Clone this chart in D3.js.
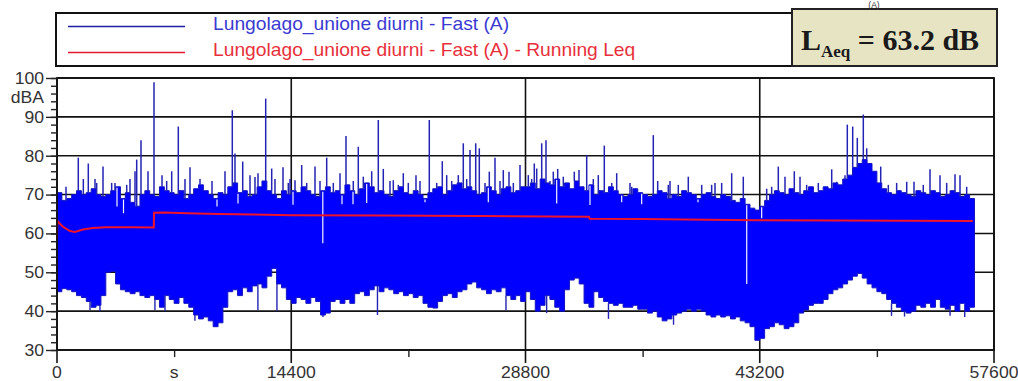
<!DOCTYPE html>
<html>
<head>
<meta charset="utf-8">
<script src="https://cdn.jsdelivr.net/npm/d3@7"></script>
<style>
  body { margin: 0; background: #fff; }
  svg { display: block; }
</style>
</head>
<body>
<div class="chart"></div>
<script>
// Fast (A) level in 300 s slices: top / bottom of the solid band (dBA)
const sliceSeconds = 300;
const bandTop = [
  // 0 - 14400 s
  70.5, 68.5, 69, 70, 71, 70, 70.5, 71.5, 70, 69.5,
  70, 71, 72, 69, 70.5, 68, 67, 70, 71, 70,
  69.5, 72, 71, 70.5, 70, 71, 69, 70, 71.5, 72.5,
  71, 70, 69, 70.5, 70, 72, 73, 70.5, 71, 69.5,
  70, 72, 73.5, 71, 70, 69, 71, 70,
  // 14400 - 28800 s
  71, 70.5, 72, 71, 70, 69.5, 71, 72, 70.5, 71,
  70, 72.5, 71, 70, 71.5, 73, 72, 70.5, 71, 70,
  69.5, 71, 72, 70.5, 70, 71, 70, 69, 70.5, 71.5,
  72, 70, 71, 72.5, 73, 71.5, 72, 71, 70, 70.5,
  72, 71, 70, 71.5, 72, 70.5, 71, 72,
  // 28800 - 43200 s
  72, 73, 71.5, 74, 73, 72.5, 74, 72, 73, 71.5,
  73.5, 72, 71, 72.5, 70, 71, 70.5, 72, 71, 70,
  69.5, 70, 71.5, 70.5, 70, 69.5, 70, 71, 70.5, 69,
  70, 69.5, 71, 70.5, 70, 69, 70, 70.5, 69.5, 69,
  70, 69.5, 68.5, 68, 69, 67.5, 66.5, 66,
  // 43200 - 56400 s
  67, 68.5, 70, 71, 70.5, 70, 71.5, 70.5, 70, 71,
  72, 70.5, 71, 72, 71.5, 73, 72.5, 74, 75, 77,
  78, 79, 78, 76, 73, 71.5, 70.5, 70, 71, 70.5,
  70, 69.5, 71, 70.5, 70, 71, 70.5, 69.5, 70, 71,
  70.5, 69.5, 70, 69
];
const bandBottom = [
  // 0 - 14400 s
  45, 45.8, 45.5, 45, 44, 43.5, 42.5, 41, 41.5, 44,
  50, 50.2, 47, 45.5, 45, 44.5, 45, 44, 43.5, 44,
  43, 41, 44, 43, 42, 43.5, 42, 41, 39, 38,
  38.5, 37.5, 36, 37, 41, 45, 45.5, 44, 46, 45,
  46.5, 47, 46, 49, 51, 47, 46, 43,
  // 14400 - 28800 s
  42, 43.5, 43, 42, 43.5, 42.5, 39, 39.5, 42.5, 43,
  42, 43, 42, 44.5, 45, 44, 45.5, 46.5, 45, 46,
  45.5, 44.5, 45, 44, 44.5, 43.5, 44, 42, 41, 40.8,
  42.5, 44, 44.5, 43.5, 45, 45.5, 47, 47.5, 46, 45.5,
  44.5, 45.5, 45, 46, 44, 43, 44, 42.5,
  // 28800 - 43200 s
  45, 43, 40, 41.5, 44, 43, 41, 40, 45.5, 48,
  48.5, 47, 42, 41, 45, 43.5, 42.5, 42, 41.5, 42,
  41, 41, 41.5, 40.5, 40.5, 39.5, 40, 38.5, 37.5, 38,
  39, 39.5, 40, 40.5, 40, 40.5, 40, 39, 38.5, 39,
  38.5, 38.8, 38, 38.5, 37.5, 37, 36, 32.5,
  // 43200 - 56400 s
  33, 35.5, 36, 37, 36.5, 35.5, 36, 37, 39.5, 40.3,
  41.5, 42, 42, 43, 44.5, 45.5, 46, 47, 48, 49,
  49.7, 48.5, 47, 46, 45, 44.5, 43, 42, 41, 40,
  39.5, 40, 41.5, 41, 42, 41, 43, 41, 40.5, 41.5,
  40, 42, 40, 41
];

// short loud events above the band: [seconds, dBA]
const peaks = [
  [553, 72], [1309, 79.5], [1619, 74], [1924, 78], [2336, 74], [2439, 73],
  [2828, 77.2], [3360, 73], [3565, 73], [4285, 72.5], [4487, 74], [4795, 76],
  [4899, 79], [5164, 84], [5594, 76], [5963, 98.9], [6455, 75], [6742, 73.5],
  [7051, 76], [7457, 87.5], [7868, 74], [8176, 77], [8791, 74], [9528, 73.5],
  [10327, 76], [10776, 91.7], [10942, 80.6], [11416, 78.5], [11864, 75],
  [12171, 74.5], [12356, 75.5], [12829, 94.7], [13198, 76.7], [13400, 74],
  [13893, 77], [14218, 73], [14323, 74],
  [14631, 73.7], [15042, 77.6], [15350, 73], [15860, 77.2], [16167, 73.5],
  [16579, 79.5], [16985, 73], [17397, 75.5], [17765, 85.1], [18214, 73.5],
  [18521, 82.3], [18829, 74.6], [19136, 73], [19345, 76], [19751, 89.2],
  [20058, 76.6], [20470, 73.5], [20673, 73.7], [20981, 72.5], [21288, 75.5],
  [21595, 73], [22068, 75], [22314, 73.5], [22886, 89.2], [23341, 73],
  [23685, 78.6], [23956, 75], [24263, 73.5], [24669, 75], [24976, 83.2],
  [25185, 74], [25388, 81.5], [25739, 83.2], [25960, 81.9], [26310, 73],
  [26575, 75.9], [26925, 79.5], [27232, 73.5], [27435, 76.3], [27786, 75.9],
  [28052, 73], [28462, 77.6],
  [28972, 75], [29181, 74], [29341, 78], [29489, 76.7], [29796, 83.2],
  [30060, 84], [30306, 73.5], [30509, 75.9], [30779, 76.6], [31124, 74.6],
  [31431, 73], [31800, 75.9], [32089, 76.3], [32562, 80.2], [32967, 74],
  [33275, 75], [33644, 82.6], [34099, 73], [34406, 75.5], [35224, 73],
  [35328, 72], [36656, 85.3], [36926, 73.5], [37577, 72.5], [37683, 73.5],
  [38192, 72.5], [38807, 74.6], [39631, 72.5], [40244, 72.5], [40449, 73],
  [40859, 73], [41475, 75.5], [42188, 74.6],
  [43626, 71.5], [43933, 72], [44340, 77.2], [44752, 74.6], [45324, 76],
  [45675, 74.6], [46085, 72.5], [46800, 73], [47623, 76.5], [47930, 73.3],
  [48441, 75], [48582, 88], [48914, 87.5], [49197, 84.6], [49566, 90.6],
  [49775, 81.9], [50636, 77.2], [51103, 72.5], [51615, 73], [52234, 73.3],
  [52683, 73.3], [53252, 72.5], [53666, 76.5], [54281, 75], [54691, 73],
  [55203, 75.2], [55510, 75], [55920, 72]
];
// quiet moments below the band: [seconds, dBA]
const troughs = [
  [2030, 40.2], [2640, 40], [6020, 40.3], [6640, 40], [8480, 37.5], [12350, 40.3],
  [13520, 40], [16350, 38.5], [19700, 39], [27600, 40.2], [30100, 39.5],
  [33900, 38], [37900, 36.5], [51300, 38.8], [52100, 38.6], [54900, 38.8], [55800, 38.5]
];
// short drops cutting down into the band from its top: [seconds, dBA]
const notches = [
  [3688, 66.9], [4088, 65.2], [9836, 66.9], [11127, 67.7], [14508, 67.4],
  [16340, 57.5], [17520, 67.5], [18196, 67.5], [19038, 67.8], [22622, 68],
  [26513, 68], [30718, 67.7], [32765, 67.3], [34713, 68], [35942, 67.5],
  [39405, 68], [42400, 47], [43319, 63.9]
];
// running Leq: [seconds, dBA]
const runningLeq = [
  [0, 58.5], [20, 63.3], [150, 62.6], [400, 61.6], [800, 60.6], [1100, 60.4],
  [1600, 61], [2200, 61.4], [3000, 61.6], [4500, 61.6], [5950, 61.5], [5965, 65.3],
  [6600, 65.4], [8000, 65.2], [10000, 65], [12000, 64.9], [14400, 64.7],
  [20000, 64.6], [26000, 64.5], [32700, 64.3], [32750, 63.8], [36000, 63.7],
  [40000, 63.5], [43200, 63.4], [48000, 63.3], [56300, 63.2]
];

const xMajor = [0, 14400, 28800, 43200, 57600];
const xMinor = [7200, 21600, 36000, 50400];
const xUnit = 's';
const yMajor = [30, 40, 50, 60, 70, 80, 90, 100];
const yUnit = 'dBA';
const seriesNames = [
  'Lungolago_unione diurni - Fast (A)',
  'Lungolago_unione diurni - Fast (A) - Running Leq'
];
const laeqValue = '63.2';

const width = 1018;
const height = 381;
const plot = {left: 57, right: 994, top: 78, bottom: 350};
const sansFont = '"Liberation Sans", Arial, sans-serif';
const stretch = 1.1;

const svg = d3.select('.chart').append('svg')
  .attr('width', width)
  .attr('height', height);

const x = d3.scaleLinear().domain([0, 57600]).range([plot.left, plot.right]);
const y = d3.scaleLinear().domain([30, 100]).range([plot.bottom, plot.top]);

function stretchedText(parent, px, py, str, opts) {
  return parent.append('text')
    .attr('transform', `translate(${px},${py}) scale(${opts.sx || stretch},1)`)
    .attr('text-anchor', opts.anchor || 'start')
    .attr('font-family', sansFont)
    .attr('font-size', opts.size || 16)
    .attr('fill', opts.fill || '#333')
    .text(str);
}

// grid
svg.append('g').selectAll('line').data(yMajor).join('line')
  .attr('x1', plot.left).attr('x2', plot.right)
  .attr('y1', d => y(d)).attr('y2', d => y(d))
  .attr('stroke', '#111').attr('stroke-width', 1.6);
svg.append('g').selectAll('line').data(xMajor).join('line')
  .attr('x1', d => x(d)).attr('x2', d => x(d))
  .attr('y1', plot.top).attr('y2', plot.bottom + 13)
  .attr('stroke', '#111').attr('stroke-width', 1.6);

// the level band
const slices = bandTop.map((hi, i) => ({t: i * sliceSeconds, hi: hi, lo: bandBottom[i]}));
slices.push({t: bandTop.length * sliceSeconds, hi: bandTop[bandTop.length - 1], lo: bandBottom[bandBottom.length - 1]});

const band = d3.area()
  .x(d => x(d.t))
  .y0(d => y(d.lo))
  .y1(d => y(d.hi))
  .curve(d3.curveStepAfter);

svg.append('path')
  .datum(slices)
  .attr('d', band)
  .attr('fill', '#0000ff')
  .attr('stroke', '#1414c0')
  .attr('stroke-width', 1);

const sliceOf = t => Math.min(bandTop.length - 1, Math.floor(t / sliceSeconds));

svg.append('g').selectAll('line').data(notches).join('line')
  .attr('x1', d => x(d[0])).attr('x2', d => x(d[0]))
  .attr('y1', d => y(bandTop[sliceOf(d[0])]) + 1)
  .attr('y2', d => y(d[1]))
  .attr('stroke', '#f4f4ff').attr('stroke-width', 1.2);

svg.append('g').selectAll('line').data(peaks).join('line')
  .attr('x1', d => x(d[0])).attr('x2', d => x(d[0]))
  .attr('y1', d => y(bandTop[sliceOf(d[0])]))
  .attr('y2', d => y(d[1]))
  .attr('stroke', '#2323b4').attr('stroke-width', 1.5);

svg.append('g').selectAll('line').data(troughs).join('line')
  .attr('x1', d => x(d[0])).attr('x2', d => x(d[0]))
  .attr('y1', d => y(bandBottom[sliceOf(d[0])]))
  .attr('y2', d => y(d[1]))
  .attr('stroke', '#2323b4').attr('stroke-width', 1.4);

// running Leq
svg.append('path')
  .datum(runningLeq)
  .attr('d', d3.line().x(d => x(d[0])).y(d => y(d[1])))
  .attr('fill', 'none')
  .attr('stroke', '#f01428')
  .attr('stroke-width', 2);

// frame
svg.append('rect')
  .attr('x', plot.left).attr('y', plot.top)
  .attr('width', plot.right - plot.left).attr('height', plot.bottom - plot.top)
  .attr('fill', 'none').attr('stroke', '#111').attr('stroke-width', 1.8);

// y axis ticks
const yMinorAxis = svg.append('g')
  .attr('transform', `translate(${plot.left},0)`)
  .call(d3.axisLeft(y).tickValues(d3.range(30, 101, 2)).tickSize(6).tickFormat(''));
const yMajorAxis = svg.append('g')
  .attr('transform', `translate(${plot.left},0)`)
  .call(d3.axisLeft(y).tickValues(yMajor).tickSize(11).tickFormat(''));
// x axis minor ticks
const xMinorAxis = svg.append('g')
  .attr('transform', `translate(0,${plot.bottom})`)
  .call(d3.axisBottom(x).tickValues(xMinor).tickSize(7).tickFormat(''));
[yMinorAxis, yMajorAxis, xMinorAxis].forEach(g => {
  g.select('.domain').remove();
  g.selectAll('line').attr('stroke', '#222').attr('stroke-width', 1.4);
});

// y labels
yMajor.forEach(v => stretchedText(svg, 44, y(v) + 5.8, String(v), {anchor: 'end'}));
stretchedText(svg, 44, y(95) + 5.8, yUnit, {anchor: 'end'});

// x labels
xMajor.forEach(v => stretchedText(svg, x(v), 378, String(v), {anchor: 'middle'}));
stretchedText(svg, x(xMinor[0]), 378, xUnit, {anchor: 'middle'});

// legend
const legend = svg.append('g');
legend.append('rect')
  .attr('x', 56).attr('y', 13).attr('width', 740).attr('height', 53)
  .attr('fill', '#fff').attr('stroke', '#111').attr('stroke-width', 2);
const legendColors = [{line: '#1f1fa8', text: '#3a3ad2'}, {line: '#e01830', text: '#e8303a'}];
seriesNames.forEach((name, i) => {
  const ly = 26.5 + i * 26;
  legend.append('line')
    .attr('x1', 68).attr('x2', 185).attr('y1', ly).attr('y2', ly)
    .attr('stroke', legendColors[i].line).attr('stroke-width', 1.6);
  stretchedText(legend, 213, ly + 3.2, name, {size: 17.5, fill: legendColors[i].text});
});

// LAeq box
const box = svg.append('g');
box.append('rect')
  .attr('x', 792).attr('y', 9).attr('width', 205).attr('height', 57)
  .attr('fill', '#e7e4c4').attr('stroke', '#222').attr('stroke-width', 2);
const laeq = box.append('text')
  .attr('x', 801).attr('y', 50)
  .attr('font-family', '"Liberation Serif", "Times New Roman", serif')
  .attr('font-weight', 'bold')
  .attr('font-size', 30)
  .attr('fill', '#1a1a1a');
laeq.append('tspan').text('L');
laeq.append('tspan').attr('font-size', 17).attr('dy', 7).text('Aeq');
laeq.append('tspan').attr('dy', -7).text(' = ' + laeqValue + ' dB');

// small caption squeezed above the LAeq box
stretchedText(svg, 874, 7.5, '(A)', {anchor: 'middle', size: 8.5, sx: 1});
</script>
</body>
</html>
